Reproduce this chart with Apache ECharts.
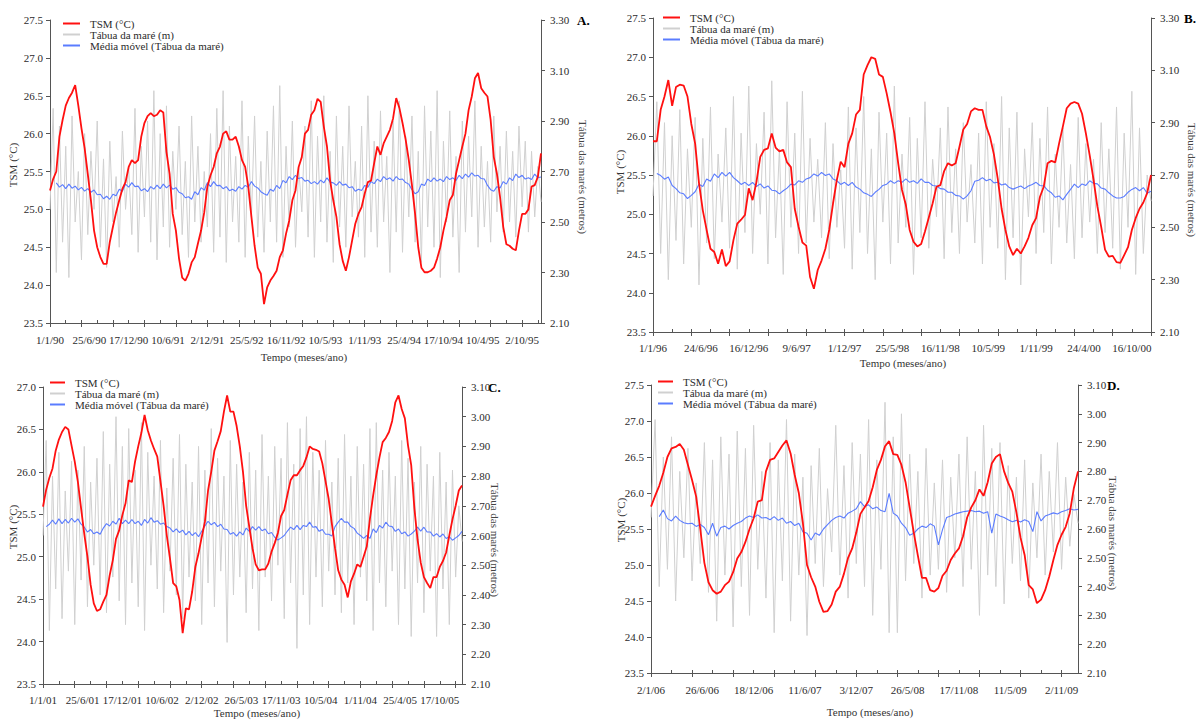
<!DOCTYPE html>
<html>
<head>
<meta charset="utf-8">
<script src="https://cdn.jsdelivr.net/npm/echarts@6/dist/echarts.min.js"></script>
<style>
html,body{margin:0;padding:0;background:#fff;}
#chart{width:1201px;height:720px;}
</style>
</head>
<body>
<div id="chart"></div>
<script>
// ---------- tick labels (one every 25 weekly steps) ----------
const labelsA = ['1/1/90','25/6/90','17/12/90','10/6/91','2/12/91','25/5/92','16/11/92','10/5/93','1/11/93','25/4/94','17/10/94','10/4/95','2/10/95'];
const labelsB = ['1/1/96','24/6/96','16/12/96','9/6/97','1/12/97','25/5/98','16/11/98','10/5/99','1/11/99','24/4/00','16/10/00'];
const labelsC = ['1/1/01','25/6/01','17/12/01','10/6/02','2/12/02','26/5/03','17/11/03','10/5/04','1/11/04','25/4/05','17/10/05'];
const labelsD = ['2/1/06','26/6/06','18/12/06','11/6/07','3/12/07','26/5/08','17/11/08','11/5/09','2/11/09'];

// ---------- TSM (°C), one value every 2 weeks ----------
const tsmA = [25.25,25.40,25.5,25.96,26.18,26.37,26.47,26.54,26.64,26.37,
 26.07,25.81,25.47,25.12,24.72,24.50,24.37,24.28,24.28,24.57,
 24.77,24.96,25.12,25.27,25.36,25.56,25.65,25.61,25.65,25.96,
 26.14,26.23,26.27,26.23,26.25,26.31,26.28,25.76,25.47,24.94,
 24.72,24.35,24.1,24.06,24.15,24.30,24.37,24.55,24.72,24.96,
 25.3,25.45,25.56,25.74,25.83,26.0,26.03,25.92,25.92,25.96,
 25.83,25.65,25.56,25.30,24.9,24.52,24.23,24.15,23.75,23.97,
 24.06,24.12,24.19,24.37,24.46,24.68,24.85,25.12,25.25,25.56,
 25.69,26.0,26.05,26.25,26.31,26.46,26.42,26.09,25.83,25.38,
 25.12,24.90,24.54,24.32,24.19,24.37,24.59,24.81,24.94,25.03,
 25.21,25.36,25.38,25.61,25.83,25.72,25.87,25.96,26.05,26.20,
 26.47,26.34,26.14,25.92,25.65,25.32,24.94,24.50,24.23,24.17,
 24.17,24.19,24.23,24.35,24.5,24.72,24.9,25.12,25.19,25.47,
 25.65,25.83,26.0,26.31,26.49,26.73,26.8,26.60,26.54,26.49,
 26.18,25.69,25.47,25.16,24.77,24.54,24.52,24.48,24.46,24.72,
 24.94,24.94,25.0,25.30,25.32,25.43,25.74];
const tsmB = [25.93,25.93,26.33,26.5,26.71,26.38,26.62,26.65,26.64,26.5,
 26.15,25.9,25.4,25.05,24.8,24.56,24.52,24.37,24.55,24.34,
 24.4,24.67,24.88,24.93,24.99,25.33,25.18,25.41,25.73,25.82,
 25.84,26.03,25.85,25.8,25.82,25.66,25.6,25.07,24.84,24.64,
 24.6,24.2,24.05,24.29,24.41,24.56,24.8,25.14,25.44,25.67,
 25.6,25.9,26.03,26.27,26.33,26.78,26.9,27.0,26.98,26.78,
 26.75,26.54,26.3,26.03,25.65,25.31,25.12,24.8,24.65,24.59,
 24.62,24.78,24.96,25.14,25.35,25.37,25.55,25.65,25.62,25.65,
 25.86,26.08,26.15,26.31,26.35,26.33,26.33,26.12,25.98,25.76,
 25.45,25.07,24.8,24.59,24.48,24.56,24.5,24.59,24.7,24.86,
 24.95,25.22,25.35,25.65,25.68,25.66,25.9,26.12,26.35,26.41,
 26.43,26.41,26.28,26.03,25.75,25.44,25.1,24.84,24.55,24.46,
 24.47,24.39,24.38,24.48,24.58,24.8,24.95,25.07,25.15,25.27,
 25.5];
const tsmC = [25.59,25.79,25.93,26.04,26.25,26.38,26.47,26.53,26.5,26.31,
 26.12,25.88,25.57,25.27,25.0,24.67,24.45,24.36,24.38,24.47,
 24.55,24.78,24.96,25.21,25.31,25.49,25.63,25.9,25.88,26.12,
 26.3,26.46,26.67,26.49,26.37,26.27,26.18,25.89,25.6,25.25,
 24.98,24.69,24.65,24.49,24.1,24.39,24.38,24.59,24.88,25.04,
 25.23,25.41,25.78,26.0,26.25,26.36,26.48,26.71,26.9,26.71,
 26.71,26.54,26.3,26.0,25.6,25.35,25.1,24.91,24.84,24.85,
 24.85,24.92,25.06,25.16,25.28,25.48,25.55,25.73,25.9,25.96,
 25.96,26.02,26.07,26.17,26.3,26.27,26.26,26.24,26.1,25.89,
 25.68,25.39,25.1,24.84,24.73,24.67,24.52,24.71,24.8,24.91,
 24.88,25.0,25.12,25.45,25.72,25.96,26.17,26.35,26.4,26.47,
 26.6,26.82,26.9,26.74,26.63,26.31,26.08,25.57,25.2,24.93,
 24.76,24.69,24.63,24.76,24.76,24.88,24.95,25.05,25.25,25.44,
 25.6,25.78,25.84];
const tsmD = [25.81,25.96,26.1,26.28,26.5,26.62,26.64,26.68,26.6,26.39,
 26.18,25.95,25.5,25.03,24.76,24.65,24.6,24.63,24.72,24.77,
 24.9,25.09,25.18,25.32,25.5,25.65,25.88,25.9,26.3,26.46,
 26.48,26.57,26.66,26.73,26.55,26.25,26.0,25.58,25.0,24.83,
 24.7,24.49,24.35,24.36,24.45,24.63,24.7,24.88,25.1,25.23,
 25.45,25.71,25.8,25.89,26.08,26.32,26.46,26.65,26.72,26.54,
 26.53,26.39,26.15,25.8,25.45,25.13,24.82,24.82,24.65,24.63,
 24.68,24.85,24.92,25.07,25.16,25.23,25.4,25.66,25.8,25.9,
 26.05,25.96,26.15,26.41,26.5,26.54,26.3,26.14,26.02,25.73,
 25.38,25.14,24.72,24.66,24.47,24.52,24.65,24.84,25.07,25.28,
 25.42,25.53,25.72,26.07,26.3];

// ---------- Tábua da maré (m), one value every 2 weeks ----------
const tideA = [2.55,2.95,2.30,2.88,2.42,2.80,2.28,2.92,2.50,2.70,
 2.35,2.85,2.45,2.78,2.55,2.90,2.40,2.75,2.32,2.82,
 2.50,2.68,2.40,2.86,2.55,2.72,2.45,2.95,2.38,2.80,
 2.52,2.90,2.42,3.02,2.35,2.85,2.48,2.96,2.40,2.78,
 2.55,2.88,2.45,2.74,2.36,2.92,2.50,2.80,2.42,2.70,
 2.48,2.85,2.38,2.95,2.44,3.02,2.34,2.88,2.50,2.76,
 2.42,2.98,2.36,2.84,2.52,2.92,2.44,2.74,2.38,2.86,
 2.50,2.96,2.42,3.04,2.36,2.80,2.48,2.90,2.40,2.72,
 2.54,2.88,2.44,2.98,2.36,2.84,2.50,3.00,2.42,2.78,
 2.34,2.92,2.48,2.80,2.40,2.96,2.52,2.74,2.44,2.88,
 2.36,3.00,2.46,2.82,2.40,2.94,2.50,2.76,2.30,2.90,
 2.46,2.98,2.38,2.84,2.52,2.92,2.42,2.78,2.34,2.96,
 2.48,2.86,2.40,3.02,2.28,2.82,2.50,2.94,2.44,2.76,
 2.30,2.90,2.46,2.84,2.52,2.98,2.40,2.80,2.48,2.74,
 2.42,2.92,2.54,2.80,2.46,2.86,2.50,2.78,2.44,2.88,
 2.56,2.82,2.46,2.78,2.52,2.72,2.58];
const tideB = [2.62,2.98,2.40,2.90,2.30,2.85,2.45,2.95,2.36,2.80,
 2.50,2.92,2.28,2.84,2.44,2.96,2.38,2.78,2.52,2.88,
 2.42,3.00,2.34,2.86,2.48,3.04,2.40,2.82,2.55,2.94,
 2.36,3.06,2.46,2.80,2.32,2.98,2.50,2.86,2.40,3.02,
 2.44,2.84,2.52,2.76,2.46,2.90,2.38,2.82,2.50,2.72,
 2.42,2.96,2.34,2.88,2.48,3.00,2.40,2.80,2.30,2.94,
 2.52,2.86,2.36,3.04,2.44,2.78,2.50,2.92,2.32,2.84,
 2.46,2.98,2.42,2.76,2.54,2.88,2.38,2.96,2.48,2.80,
 2.40,2.90,2.52,2.74,2.44,2.86,2.36,2.98,2.50,2.82,
 2.42,3.00,2.30,2.88,2.46,2.94,2.28,2.80,2.54,2.90,
 2.40,2.84,2.48,2.96,2.36,2.78,2.50,2.88,2.44,2.74,
 2.38,2.92,2.46,2.82,2.52,2.76,2.40,2.90,2.48,2.80,
 2.42,2.96,2.34,2.86,2.50,3.02,2.32,2.88,2.40,2.70,
 2.60];
const tideC = [2.60,2.92,2.28,2.80,2.42,2.88,2.32,2.75,2.48,2.85,
 2.30,2.82,2.45,2.90,2.36,2.78,2.50,2.86,2.40,2.95,
 2.34,2.84,2.46,3.00,2.38,2.90,2.30,2.96,2.44,2.82,
 2.36,2.98,2.28,2.88,2.50,2.80,2.42,2.92,2.34,2.76,
 2.48,2.86,2.40,2.94,2.32,2.84,2.46,2.78,2.38,2.90,
 2.30,2.82,2.44,2.96,2.36,2.86,2.48,2.80,2.24,2.92,
 2.40,2.84,2.46,2.78,2.34,2.88,2.42,2.82,2.28,2.94,
 2.46,2.80,2.38,2.90,2.50,2.86,2.32,2.98,2.44,2.84,
 2.22,2.96,2.40,3.00,2.30,2.88,2.46,2.82,2.36,2.92,
 2.48,2.78,2.40,2.86,2.34,2.94,2.44,2.80,2.30,2.90,
 2.46,2.84,2.38,2.96,2.28,2.98,2.44,2.82,2.36,2.88,
 2.48,2.80,2.30,2.92,2.42,2.86,2.26,2.78,2.44,2.90,
 2.34,2.84,2.48,2.80,2.26,2.88,2.42,2.78,2.30,2.82,
 2.46,2.70,2.58];
const tideD = [2.64,2.98,2.40,2.85,2.46,2.92,2.35,2.80,2.50,2.88,
 2.42,2.76,2.48,2.90,2.38,2.84,2.28,2.92,2.44,2.86,
 2.26,2.94,2.40,2.88,2.30,2.96,2.46,2.80,2.36,2.90,
 2.24,2.84,2.42,2.98,2.28,2.86,2.44,2.78,2.23,2.82,
 2.48,2.88,2.40,2.74,2.52,2.96,2.44,2.82,2.36,2.90,
 2.48,2.86,2.40,2.98,2.30,2.84,2.46,3.04,2.24,2.92,
 2.24,3.00,2.42,2.86,2.48,2.80,2.36,2.88,2.44,2.76,
 2.46,2.84,2.38,2.78,2.50,2.86,2.40,2.92,2.46,2.80,
 2.30,2.96,2.44,2.88,2.40,2.90,2.34,2.82,2.48,2.78,
 2.42,2.84,2.36,2.76,2.50,2.86,2.44,2.80,2.52,2.90,
 2.46,2.78,2.54,2.72,2.62];

// ---------- Média móvel (Tábua da maré), one value every 2 weeks ----------
const mmA = [null,null,2.655,2.638,2.648,2.632,2.65,2.634,2.642,2.627,
 2.637,2.622,2.632,2.618,2.627,2.608,2.61,2.592,2.602,2.59,
 2.61,2.604,2.63,2.622,2.65,2.638,2.656,2.64,2.642,2.624,
 2.632,2.62,2.64,2.63,2.646,2.632,2.65,2.635,2.646,2.63,
 2.636,2.618,2.612,2.596,2.6,2.59,2.62,2.608,2.636,2.626,
 2.656,2.64,2.66,2.644,2.645,2.632,2.64,2.624,2.63,2.622,
 2.64,2.63,2.645,2.638,2.66,2.642,2.635,2.62,2.612,2.606,
 2.63,2.622,2.645,2.632,2.665,2.655,2.68,2.668,2.685,2.672,
 2.676,2.662,2.665,2.652,2.66,2.65,2.666,2.655,2.675,2.658,
 2.655,2.645,2.66,2.646,2.65,2.636,2.64,2.622,2.63,2.625,
 2.645,2.638,2.66,2.652,2.67,2.66,2.68,2.668,2.675,2.662,
 2.68,2.668,2.67,2.656,2.65,2.628,2.612,2.62,2.65,2.645,
 2.67,2.66,2.675,2.662,2.67,2.66,2.68,2.668,2.675,2.664,
 2.685,2.672,2.69,2.678,2.695,2.682,2.685,2.672,2.67,2.645,
 2.628,2.622,2.64,2.635,2.66,2.65,2.675,2.664,2.69,2.676,
 2.685,2.67,2.675,2.668,2.69,2.675,2.678];
const mmB = [null,2.706,2.698,2.684,2.692,2.66,2.648,2.632,2.628,2.61,
 2.622,2.636,2.665,2.656,2.685,2.676,2.704,2.69,2.71,2.696,
 2.71,2.69,2.678,2.664,2.672,2.66,2.672,2.656,2.666,2.65,
 2.658,2.642,2.64,2.628,2.64,2.65,2.665,2.662,2.678,2.672,
 2.685,2.69,2.704,2.696,2.71,2.698,2.704,2.685,2.678,2.664,
 2.672,2.66,2.672,2.654,2.646,2.632,2.626,2.618,2.634,2.645,
 2.66,2.665,2.678,2.668,2.678,2.672,2.685,2.672,2.678,2.668,
 2.685,2.672,2.672,2.66,2.658,2.648,2.646,2.634,2.634,2.622,
 2.62,2.608,2.62,2.64,2.676,2.68,2.69,2.678,2.684,2.67,
 2.672,2.662,2.666,2.652,2.646,2.652,2.658,2.648,2.658,2.664,
 2.672,2.66,2.658,2.642,2.632,2.615,2.62,2.605,2.626,2.645,
 2.665,2.652,2.666,2.66,2.678,2.668,2.666,2.65,2.646,2.632,
 2.62,2.612,2.612,2.618,2.634,2.645,2.652,2.64,2.652,2.63,
 2.638];
const mmC = [null,2.63,2.638,2.652,2.638,2.656,2.64,2.654,2.642,2.658,
 2.645,2.656,2.638,2.628,2.612,2.62,2.606,2.612,2.604,2.625,
 2.64,2.632,2.648,2.638,2.658,2.64,2.652,2.64,2.654,2.64,
 2.648,2.634,2.654,2.642,2.66,2.645,2.65,2.638,2.642,2.63,
 2.625,2.612,2.622,2.61,2.618,2.602,2.614,2.6,2.61,2.596,
 2.614,2.632,2.648,2.636,2.644,2.63,2.638,2.622,2.62,2.604,
 2.61,2.598,2.612,2.602,2.625,2.614,2.63,2.618,2.63,2.616,
 2.622,2.606,2.61,2.594,2.585,2.592,2.6,2.615,2.628,2.62,
 2.634,2.62,2.634,2.63,2.645,2.628,2.63,2.614,2.62,2.604,
 2.604,2.598,2.63,2.645,2.658,2.645,2.645,2.63,2.624,2.608,
 2.6,2.59,2.6,2.59,2.622,2.61,2.634,2.625,2.645,2.632,
 2.63,2.614,2.622,2.606,2.612,2.598,2.605,2.615,2.628,2.615,
 2.628,2.612,2.612,2.598,2.606,2.595,2.605,2.59,2.596,2.584,
 2.592,2.6,2.614];
const mmD = [null,null,2.643,2.666,2.636,2.628,2.645,2.63,2.622,2.618,
 2.62,2.609,2.616,2.605,2.58,2.62,2.575,2.605,2.61,2.6,
 2.612,2.62,2.626,2.638,2.645,2.64,2.649,2.638,2.64,2.632,
 2.643,2.63,2.638,2.62,2.626,2.612,2.62,2.59,2.585,2.562,
 2.586,2.578,2.6,2.615,2.63,2.64,2.645,2.638,2.655,2.662,
 2.67,2.695,2.678,2.684,2.67,2.676,2.664,2.66,2.724,2.655,
 2.645,2.62,2.605,2.578,2.585,2.6,2.61,2.605,2.618,2.61,
 2.545,2.598,2.64,2.645,2.652,2.656,2.66,2.662,2.664,2.66,
 2.662,2.655,2.66,2.586,2.652,2.645,2.64,2.632,2.625,2.63,
 2.624,2.632,2.626,2.591,2.66,2.628,2.645,2.65,2.656,2.652,
 2.66,2.664,2.67,2.666,2.668];

const NAME_TSM = 'TSM (°C)';
const NAME_TIDE = 'Tábua da maré (m)';
const NAME_MM = 'Média móvel (Tábua da maré)';

const FONT = '"Liberation Serif", "DejaVu Serif", "Times New Roman", serif';

const panels = [
  {letter:'A.', grid:{left:50, top:20, width:491, height:303}, weeks:312, yL:[23.5,27.5], yR:[2.1,3.3,0.2],
   labels:labelsA, tsm:tsmA, tide:tideA, mm:mmA, xMargin:11,
   legend:{left:63, top:18, w:17}, leftName:[13,165], rightName:[583,177], xName:[304,357], letterPos:[577,20]},
  {letter:'B.', grid:{left:653, top:18, width:498, height:314}, weeks:260, yL:[23.5,27.5], yR:[2.1,3.3,0.2],
   labels:labelsB, tsm:tsmB, tide:tideB, mm:mmB, xMargin:10,
   legend:{left:663, top:12, w:17}, leftName:[620,172], rightName:[1192,180], xName:[903,363], letterPos:[1184,18]},
  {letter:'C.', grid:{left:43, top:387, width:419, height:297}, weeks:264, yL:[23.5,27.0], yR:[2.1,3.1,0.1],
   labels:labelsC, tsm:tsmC, tide:tideC, mm:mmC, xMargin:10,
   legend:{left:50, top:377, w:15}, leftName:[13,527], rightName:[495,540], xName:[257,713], letterPos:[488,387]},
  {letter:'D.', grid:{left:651, top:385, width:427, height:288}, weeks:208, yL:[23.5,27.5], yR:[2.1,3.1,0.1],
   labels:labelsD, tsm:tsmD, tide:tideD, mm:mmD, xMargin:11,
   legend:{left:658, top:376, w:15}, leftName:[621,520], rightName:[1113,533], xName:[870,712], letterPos:[1107,385]}
];

function buildCats(labels, weeks) {
  const c = [];
  for (let i = 0; i <= weeks; i++) {
    c.push(i % 25 === 0 && labels[i / 25] !== undefined ? labels[i / 25] : '#' + i);
  }
  return c;
}
function pairs(arr, step) {
  const out = [];
  arr.forEach((v, i) => { if (v !== null) out.push([i * step, v]); });
  return out;
}

const AX = '#555';
const TX = '#2b2b2b';
const grids = [], xAxes = [], yAxes = [], series = [], legends = [], graphics = [];

panels.forEach((p, k) => {
  grids.push(Object.assign({containLabel:false, show:false}, p.grid));
  const cats = buildCats(p.labels, p.weeks);
  xAxes.push({
    gridIndex:k, type:'category', boundaryGap:false, data:cats, position:'bottom',
    axisLine:{show:true, onZero:false, lineStyle:{color:AX, width:1}},
    axisTick:{show:true, interval:19, length:4, lineStyle:{color:AX}},
    axisLabel:{interval:24, margin:p.xMargin, color:TX, fontFamily:FONT, fontSize:11,
      formatter:(v) => (v.charAt(0) === '#' ? '' : v)},
    splitLine:{show:false}
  });
  xAxes.push({
    gridIndex:k, type:'category', boundaryGap:false, data:cats, position:'bottom',
    axisLine:{show:false},
    axisTick:{show:true, interval:9, inside:true, length:3, lineStyle:{color:AX}},
    axisLabel:{show:false}, splitLine:{show:false}
  });
  yAxes.push({
    gridIndex:k, type:'value', position:'left', min:p.yL[0], max:p.yL[1], interval:0.5,
    axisLine:{show:true, lineStyle:{color:AX, width:1}},
    axisTick:{show:true, length:4, lineStyle:{color:AX}},
    axisLabel:{margin:7, color:TX, fontFamily:FONT, fontSize:11, formatter:(v) => v.toFixed(1)},
    splitLine:{show:false}
  });
  yAxes.push({
    gridIndex:k, type:'value', position:'right', min:p.yR[0], max:p.yR[1], interval:p.yR[2],
    axisLine:{show:true, lineStyle:{color:AX, width:1}},
    axisTick:{show:true, length:4, lineStyle:{color:AX}},
    axisLabel:{margin:9, color:TX, fontFamily:FONT, fontSize:11, formatter:(v) => v.toFixed(2)},
    splitLine:{show:false}
  });
  series.push({
    type:'line', name:NAME_TIDE, xAxisIndex:2*k, yAxisIndex:2*k+1,
    data:pairs(p.tide, 2), symbol:'none', silent:true, z:1,
    lineStyle:{color:'#d0d0d0', width:1}, itemStyle:{color:'#d0d0d0'}
  });
  series.push({
    type:'line', name:NAME_MM, xAxisIndex:2*k, yAxisIndex:2*k+1,
    data:pairs(p.mm, 2), symbol:'none', silent:true, z:2,
    lineStyle:{color:'#5a7cff', width:1.1}, itemStyle:{color:'#5a7cff'}
  });
  series.push({
    type:'line', name:NAME_TSM, xAxisIndex:2*k, yAxisIndex:2*k,
    data:pairs(p.tsm, 2), symbol:'none', silent:true, z:3,
    lineStyle:{color:'#ff1010', width:1.8}, itemStyle:{color:'#ff1010'}
  });
  legends.push({
    left:p.legend.left, top:p.legend.top, orient:'vertical', padding:0, itemGap:0,
    itemWidth:p.legend.w, itemHeight:2, icon:'rect', selectedMode:false,
    data:[NAME_TSM, NAME_TIDE, NAME_MM],
    textStyle:{fontFamily:FONT, fontSize:11, color:TX, lineHeight:11, padding:[0,0,0,5]}
  });
  const txt = (x, y, text, rot, extra) => ({
    type:'text', x:x, y:y, rotation:rot || 0, silent:true,
    style:Object.assign({text:text, fontFamily:FONT, fontSize:11, fill:'#333',
      align:'center', verticalAlign:'middle', textAlign:'center', textVerticalAlign:'middle'}, extra || {})
  });
  graphics.push(txt(p.leftName[0], p.leftName[1], 'TSM (°C)', Math.PI / 2));
  graphics.push(txt(p.rightName[0], p.rightName[1], 'Tábua das marés (metros)', -Math.PI / 2, {fill:'#444'}));
  graphics.push(txt(p.xName[0], p.xName[1], 'Tempo (meses/ano)', 0));
  graphics.push(txt(p.letterPos[0], p.letterPos[1], p.letter, 0,
    {fontSize:13, fontWeight:'bold', fill:'#000', align:'left', textAlign:'left'}));
});

const chart = echarts.init(document.getElementById('chart'), null, {renderer:'svg', width:1201, height:720});
chart.setOption({
  backgroundColor:'#ffffff',
  animation:false,
  grid:grids, xAxis:xAxes, yAxis:yAxes, series:series, legend:legends,
  graphic:{elements:graphics}
});
</script>
</body>
</html>
